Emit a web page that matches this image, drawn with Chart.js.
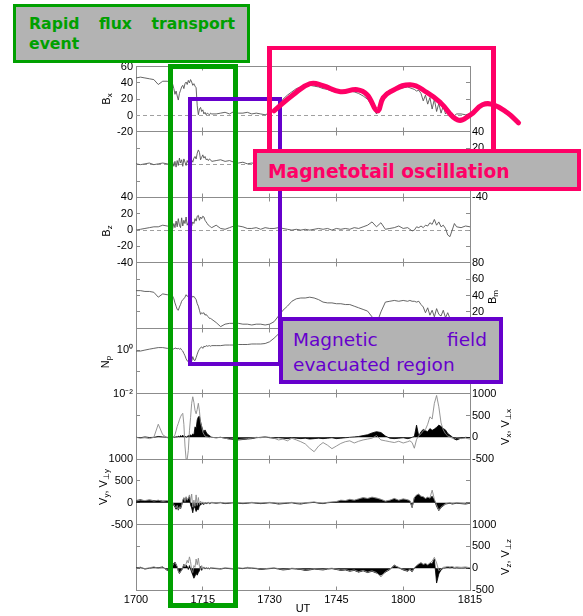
<!DOCTYPE html>
<html>
<head>
<meta charset="utf-8">
<script src="https://cdn.jsdelivr.net/npm/chart.js@4.4.0/dist/chart.umd.min.js"></script>
<style>
  html,body{margin:0;padding:0;background:#fff;}
  #stage{position:relative;width:583px;height:616px;overflow:hidden;background:#fff;}
  canvas{position:absolute;left:0;}
  .yt{position:absolute;transform:translate(-50%,-50%) rotate(-90deg);white-space:nowrap;
      font:11px "Liberation Sans",Arial,sans-serif;color:#000;z-index:2;line-height:1;}
  .yt sub{font-size:8px;vertical-align:-2px;}
  .rect{position:absolute;box-sizing:border-box;background:transparent;}
  .lbl{position:absolute;box-sizing:border-box;background:#b3b3b3;}
  .txt{position:absolute;font-family:"DejaVu Sans",Verdana,sans-serif;white-space:nowrap;}
  .just{text-align:justify;text-align-last:justify;}
</style>
</head>
<body>
<div id="stage">
  <!-- axis titles -->
  <div class="yt" style="left:107px;top:99px">B<sub>x</sub></div>
  <div class="yt" style="left:493px;top:164px">B<sub>y</sub></div>
  <div class="yt" style="left:107px;top:231px">B<sub>z</sub></div>
  <div class="yt" style="left:493px;top:297px">B<sub>m</sub></div>
  <div class="yt" style="left:106px;top:362px">N<sub>p</sub></div>
  <div class="yt" style="left:506px;top:427px">V<sub>x</sub>, V<sub>⊥x</sub></div>
  <div class="yt" style="left:104px;top:487px">V<sub>y</sub>, V<sub>⊥y</sub></div>
  <div class="yt" style="left:506px;top:557px">V<sub>z</sub>, V<sub>⊥z</sub></div>

  <!-- annotation outlines -->
  <div class="rect" style="left:168px;top:64px;width:70px;height:544px;border:5px solid #00a000;z-index:5"></div>
  <div class="rect" style="left:188px;top:97px;width:94px;height:269px;border:4px solid #6600cc;z-index:5"></div>
  <div class="rect" style="left:267px;top:46px;width:229px;height:110px;border:5px solid #ff0066;border-top-width:4px;z-index:5"></div>

  <!-- annotation labels -->
  <div class="lbl" style="left:13px;top:4px;width:237px;height:59px;border:3px solid #00a000;z-index:8"></div>
  <div class="txt" style="left:29px;top:13.5px;width:206px;font-size:15.7px;line-height:20.7px;font-weight:bold;color:#00a000;z-index:9">
    <div class="just">Rapid flux transport</div><div>event</div>
  </div>
  <div class="lbl" style="left:253px;top:149px;width:328px;height:42px;border:4px solid #ff0066;z-index:8"></div>
  <div class="txt" style="left:268px;top:161px;font-size:18.7px;line-height:22px;font-weight:bold;color:#ff0066;z-index:9">Magnetotail oscillation</div>
  <div class="lbl" style="left:279px;top:317px;width:224px;height:67px;border:4px solid #6600cc;z-index:8"></div>
  <div class="txt" style="left:293px;top:326.7px;width:194px;font-size:18.5px;line-height:25.7px;color:#6600cc;z-index:9">
    <div class="just">Magnetic field</div><div>evacuated region</div>
  </div>
</div>
<script>
// ---------------- DATA ----------------
// time in minutes after 17:00 UT
const T = [0,1,2,3,4,5,6,7,8,
 8.25,8.5,8.75,9, 9.25,9.5,9.75,10, 10.25,10.5,10.75,11, 11.25,11.5,11.75,12, 12.25,12.5,12.75,13,
 13.25,13.5,13.75,14, 14.25,14.5,14.75,15, 15.25,15.5,15.75,16, 16.25,16.5,16.75,17,
 18,19,20,21,22,23,24,25,26,27,28,29,30,31,32,33,34,35,36,37,38,39,40,41,42,43,44,45,46,47,48,49,50,51,52,53,54,55,56,57,58,59,60,61,
 61.5,62,62.5,63,63.5,64,64.5,65,65.5,66,66.5,67,67.5,68,68.5,69,69.5,70,70.5,71,71.5,72,
 73,74,75];

const BX = [46,47,46,45,44,38,42,42,40,
 38,33,26,30, 24,19,27,31, 35,37,33,39, 41,38,43,40, 44,41,37,39, 36,34,12,1, 8,10,5,7, 2,4,1,3, 2,1,3,2,
 2,3,4,2,5,3,3,4,2,3, 2,1,3,6,12,20,25,29,33,35, 36,37,36,35,33,32,30,29,29,30, 30,29,27,24,20,12,2,16,28,31, 32,33,34,35,
 34,33,32,30,31,27,18,25,14,22,8,20,5,15,3,12,2,6,1,3,0,2,
 2,1,2];

const BY = [1,0,1,2,0,1,2,1,0,
 3,-2,4,-3, 5,-1,8,2, 6,-2,7,3, -1,5,2,4, 1,6,3,8, 10,7,14,18, 15,6,9,12, 8,10,6,7, 5,7,6,4,
 5,6,4,5,3,2,3,1,2,1, 0,1,-1,2,3,5,3,4,6,3, 2,4,5,3,2,1,3,4,2,1, 3,2,4,3,1,-2,0,3,4,2, 3,5,4,6,
 3,7,2,8,4,10,5,12,3,9,6,14,2,8,-3,5,1,4,-2,3,1,2,
 2,1,3];

const BZ = [0,1,2,3,4,4,6,5,4,
 2,8,3,11, 4,14,6,3, 15,5,12,8, 16,6,9,7, 12,5,10,8, 14,11,17,18, 12,16,14,17, 16,12,10,8, 6,5,4,3,
 6,2,1,3,5,5,4,2,2,3, 1,3,2,2,3,2,1,0,1,0, 1,0,1,2,1,2,0,2,1,2, 1,3,2,4,6,10,4,9,1,2, 3,5,2,3,
 1,-1,0,4,3,5,3,6,5,9,7,13,6,10,4,6,2,-6,-8,0,8,4,
 3,5,4];

const BM = [46,46,45,45,44,38,42,41,41,
 39,36,31,27, 23,22,26,29, 33,35,36,38, 41,39,40,41, 39,40,38,39, 37,35,30,27, 22,17,19,18, 19,16,17,15, 14,12,12,11,
 7,2,5,6,6,6,5,5,4,5, 5,4,5,8,15,22,27,33,36,37, 37,38,37,35,32,31,31,30,30,29, 29,27,25,23,21,14,5,20,32,33, 34,33,34,33,
 34,33,33,32,33,29,26,19,25,16,22,14,24,17,15,22,13,19,12,10,9,8,
 7,6,6];

const NP = [0.9,0.9,1.0,1.1,1.2,1.3,1.3,1.2,1.2,
 1.2,1.1,1.25,1.2, 1.15,1.2,1.1,1.2, 1.0,0.9,0.7,0.55, 0.4,0.32,0.3,0.35, 0.33,0.3,0.5,0.35, 0.33,0.45,0.65,0.9, 1.1,1.3,1.4,1.2, 1.5,1.4,1.6,1.5, 1.55,1.6,1.5,1.6,
 1.6,1.6,1.7,1.7,1.7,1.8,1.8,1.8,1.9,1.9, 1.9,2.0,2.4,3.5,5.5,6.5,7,7,7,6.5, 6.5,6,6,6,5.5,5.5,5,5,5,5, 4.5,4.5,4,4,3,2,1.5,3,5,6, 6,6,6,6,
 5.5,5.5,5,5,5,4.5,4,3.5,3,3.5,3,2.5,3,2.5,2,2.5,2,2,1.8,1.8,1.7,1.7,
 1.6,1.6,1.6];

const VX = [0,-20,-10,-30,0,300,60,-10,-20,
 -10,0,60,150, 250,320,400,470, 520,550,300,-200, -500,-500,-300,150, 450,780,930,800, 620,540,640,780, 600,330,250,120, 70,30,15,10, 0,-10,5,0,
 -10,0,-20,-40,-30,-50,-40,-30,-20,0, -10,10,0,-20,-60,-40,-80,-20,-60,-100, -150,-250,-330,-200,-120,-180,-260,-200,-140,-100, -80,-130,-90,-60,-40,-20,40,-60,-80,-100, -120,-90,-130,-100,
 -80,-120,-250,-50,40,80,150,180,300,470,420,780,960,700,330,170,80,30,10,-20,-40,-10,
 -30,-20,-40];

const VPX = [0,-10,10,-5,0,20,10,0,-10,
 0,10,-5,20, 0,30,10,40, 20,50,10,30, 0,20,40,30, 60,30,80,50, 240,200,400,470, 480,360,250,170, 130,170,120,75, 60,40,20,0,
 -10,0,-20,-40,-50,-60,-50,-40,-30,-10, 0,10,-10,-20,-10,-20,-30,-10,-20,-30, -20,-40,-30,-20,-30,-20,-10,-30,-20,-10, 0,10,20,40,60,100,130,110,30,-20, -30,-20,-10,-30,
 -20,0,20,280,30,130,180,150,130,200,160,190,230,280,250,200,170,90,50,10,-40,-60,
 -20,0,-10];

const VY = [40,60,50,70,40,60,30,50,20,
 0,-40,-80,-120, -60,-150,-90,-130, -40,60,120,30, 140,60,110,180, 40,200,-100,60, -80,180,-60,120, -40,40,-20,20, -30,10,-10,0, 10,-10,0,10,
 0,10,-10,0,10,0,-10,0,10,0, -10,0,10,0,-20,-10,0,10,-10,-20, 0,10,20,0,-10,10,20,30,60,50, 80,60,90,120,100,130,110,80,40,60, 100,60,90,70,
 50,-100,120,180,200,150,140,100,130,110,290,80,-50,-170,-100,-60,-20,-10,0,-20,-10,0,
 -10,-20,0];

const VPY = [50,70,40,60,50,50,40,40,10,
 -10,-60,-100,-150, -80,-170,-100,-140, -60,40,110,20, 120,50,100,140, -50,-120,-230,-80, -120,-200,-150,-160, -60,-50,-30,-20, -40,0,-20,-10, 0,-20,-10,0,
 -10,0,-20,-10,0,-10,-20,-10,0,-10, -20,-10,0,-10,-30,-20,-10,0,-20,-30, -10,0,10,-10,-20,0,10,20,50,40, 70,50,80,110,90,120,100,70,30,50, 90,50,80,60,
 40,-110,110,170,190,140,130,90,120,100,150,60,-80,-180,-110,-70,-30,-20,-10,-30,-20,-10,
 -20,-30,-10];

const VZ = [0,20,-10,10,30,0,20,-40,-10,
 60,110,130,80, 40,-60,-110,-70, -40,20,90,30, 100,180,120,260, 150,-40,-100,60, 20,210,80,230, 40,-30,60,-20, 30,-10,20,0, 10,-10,0,10,
 0,-10,10,0,-10,10,0,20,10,0, -20,-10,0,10,-10,-30,-20,0,-10,-20, -40,-30,-10,-20,-30,-10,0,-20,-40,-30, -60,-40,-80,-50,-90,-60,-100,-200,-80,-20, 60,20,-30,-60,
 -20,-70,10,60,100,130,90,110,80,120,160,250,120,-60,-20,20,30,40,30,40,20,30,
 20,30,10];

const VPZ = [10,20,-20,0,20,10,30,-50,-20,
 80,120,140,90, 30,-70,-120,-80, -50,10,90,20, 70,40,-30,60, -20,-90,-160,-230, -180,-120,-160,-100, -60,40,-50,10, 20,-20,10,-10, 0,-20,10,0,
 -10,-20,0,-10,-20,0,-10,10,0,-10, -30,-20,-10,0,-20,-40,-30,-10,-20,-30, -50,-40,-20,-30,-40,-20,-10,-30,-50,-40, -70,-50,-90,-60,-100,-70,-110,-160,-90,-30, 70,10,-40,-70,
 -30,-80,0,50,90,120,80,100,70,110,100,210,-340,-130,-40,0,10,20,10,20,0,10,
 0,10,-10];

// hand-drawn "oscillation" sketch over the Bx panel (minutes, nT)
const SKETCH_T = [31.0,35.3,39.1,42.0,45.9,49.7,51.9,54.2,55.5,57.1,61.6,65.4,68.4,72.2,75.1,77.8,80.3,83.4,85.9];
const SKETCH_B = [5.8,25.5,39.1,36.6,29.2,31.7,25.5,5.8,21.8,29.2,37.8,28.0,15.7,-5.2,0.9,13.2,13.2,3.4,-8.9];

// tick values & labels
const X_TICKS  = [0,15,30,45,60,75];
const X_LABELS = ['1700','1715','1730','1745','1800','1815'];
const BX_TICKS = [-20,0,20,40,60];
const BY_TICKS = [-40,-20,0,20,40];
const BZ_TICKS = [-40,-20,0,20,40];
const BM_TICKS = [0,20,40,60,80];
const NP_TICKS = [0.01,0.1,1,10];
const NP_LABELS = ['10\u207B\u00B2','','10\u2070',''];
const V_TICKS  = [-500,0,500,1000];

// ---------------- LAYOUT ----------------
const W = 583, PLOT_L = 136, PLOT_R = 470;
const TOP0 = 66.5, PH = 65.44, MARG = 12;
const FONT = '"Liberation Sans", Arial, sans-serif';
const AXIS_GRAY = '#8c8c8c';
const B_GRAY = '#555', V_GRAY = '#8a8a8a';

[BX,BY,BZ,BM,NP,VX,VPX,VY,VPY,VZ,VPZ].forEach((a,i)=>{ if(a.length!==T.length) throw new Error('series '+i+' length '+a.length+' != '+T.length); });

const lbl = v => String(v);
const PANELS = [
  {side:'left',  min:-20,  max:60,   ticks:BX_TICKS, labels:BX_TICKS.map(lbl), zero:true, series:[{v:BX}]},
  {side:'right', min:-40,  max:40,   ticks:BY_TICKS, labels:BY_TICKS.map(lbl), zero:true, series:[{v:BY}]},
  {side:'left',  min:-40,  max:40,   ticks:BZ_TICKS, labels:BZ_TICKS.map(lbl), zero:true, series:[{v:BZ}]},
  {side:'right', min:0,    max:80,   ticks:BM_TICKS, labels:BM_TICKS.map(lbl), series:[{v:BM}]},
  {side:'left',  min:0.01, max:10,   ticks:NP_TICKS, labels:NP_LABELS, log:true, series:[{v:NP}]},
  {side:'right', min:-500, max:1000, ticks:V_TICKS,  labels:V_TICKS.map(lbl), series:[{v:VX, v2:true},{v:VPX, fill:true}]},
  {side:'left',  min:-500, max:1000, ticks:V_TICKS,  labels:V_TICKS.map(lbl), series:[{v:VY, v2:true},{v:VPY, fill:true}]},
  {side:'right', min:-500, max:1000, ticks:V_TICKS,  labels:V_TICKS.map(lbl), series:[{v:VZ, v2:true},{v:VPZ, fill:true}]},
];

const stage = document.getElementById('stage');
function addCanvas(top, h, z) {
  const c = document.createElement('canvas');
  c.width = W; c.height = h;
  c.style.top = top + 'px'; c.style.width = W + 'px'; c.style.height = h + 'px'; c.style.zIndex = z;
  stage.appendChild(c);
  return c;
}

const framePlugin = {
  id: 'frame',
  beforeDatasetsDraw(chart, args, opts) {
    const {ctx, chartArea: a, scales} = chart;
    const ys = scales.yl, xs = scales.x;
    const snap = v => Math.floor(v) + 0.5;
    ctx.save();
    ctx.strokeStyle = AXIS_GRAY; ctx.lineWidth = 1;
    ctx.beginPath();
    const t = snap(a.top), b = snap(a.bottom - 0.01);
    ctx.moveTo(a.left, t); ctx.lineTo(a.right, t);
    ctx.moveTo(a.left, b); ctx.lineTo(a.right, b);
    X_TICKS.forEach(v => {
      if (v <= 0 || v >= 75) return;
      const px = snap(xs.getPixelForValue(v));
      ctx.moveTo(px, t); ctx.lineTo(px, t + 4);
      ctx.moveTo(px, b); ctx.lineTo(px, b - 4);
    });
    ys.ticks.forEach(tk => {
      const py = ys.getPixelForValue(tk.value);
      if (py < a.top + 2 || py > a.bottom - 2) return;
      const sy = snap(py);
      ctx.moveTo(a.left, sy); ctx.lineTo(a.left + 4, sy);
      ctx.moveTo(a.right - 4, sy); ctx.lineTo(a.right, sy);
    });
    ctx.stroke();
    if (opts.zero) {
      const zy = snap(ys.getPixelForValue(0));
      ctx.strokeStyle = '#a0a0a0'; ctx.setLineDash([4,3]);
      ctx.beginPath(); ctx.moveTo(a.left, zy); ctx.lineTo(a.right, zy); ctx.stroke();
    }
    ctx.restore();
  }
};

PANELS.forEach((p, i) => {
  const pTop = TOP0 + i * PH;
  const last = i === PANELS.length - 1;
  const cTop = Math.floor(pTop) - MARG;
  const padTop = pTop - cTop;
  const cH = last ? Math.round(padTop + PH + 26) : Math.ceil(padTop + PH + MARG);
  const padBottom = last ? 0 : cH - padTop - PH;
  const xH = last ? cH - padTop - PH : 0;
  const canvas = addCanvas(cTop, cH, 1);

  const yAxis = (side) => ({
    type: p.log ? 'logarithmic' : 'linear',
    position: side,
    min: p.min, max: p.max,
    afterFit: s => { s.width = side === 'left' ? PLOT_L : W - PLOT_R; },
    afterBuildTicks: s => { s.ticks = p.ticks.map(v => ({value: v})); },
    ticks: {
      display: side === p.side, autoSkip: false,
      padding: side === 'left' ? 3 : 2,
      font: {family: FONT, size: 11}, color: '#000',
      callback: (v, idx) => p.labels[idx]
    },
    grid: {display: true, drawOnChartArea: false, drawTicks: false},
    border: {display: true, color: AXIS_GRAY, width: 1}
  });

  const datasets = p.series.map(s => ({
    data: T.map((t, k) => ({x: t, y: s.v[k]})),
    yAxisID: 'yl',
    borderColor: s.fill ? '#000' : (s.v2 ? V_GRAY : B_GRAY),
    backgroundColor: '#000',
    fill: s.fill ? 'origin' : false,
    borderWidth: s.fill ? 0.8 : 0.9,
    pointRadius: 0, tension: 0
  }));

  const xScale = {
    type: 'linear', min: 0, max: 75, display: last,
    afterBuildTicks: s => { s.ticks = X_TICKS.map(v => ({value: v})); },
    ticks: {callback: (v, idx) => X_LABELS[idx], maxRotation: 0, autoSkip: false, padding: 3,
            font: {family: FONT, size: 11}, color: '#000'},
    grid: {display: false, drawTicks: false},
    border: {display: false},
    title: {display: true, text: 'UT', font: {family: FONT, size: 11}, color: '#000', padding: {top: 0, bottom: 0}}
  };
  if (last) xScale.afterFit = s => { s.height = xH; };

  new Chart(canvas, {
    type: 'line',
    data: {datasets},
    plugins: [framePlugin],
    options: {
      responsive: false, animation: false, devicePixelRatio: 1, events: [],
      layout: {padding: {top: padTop, bottom: padBottom, left: 0, right: 0}},
      plugins: {legend: {display: false}, tooltip: {enabled: false}, frame: {zero: !!p.zero}},
      scales: { x: xScale, yl: yAxis('left'), yr: yAxis('right') }
    }
  });
});

// sketch overlay over the Bx panel: same pixel mapping (x 0..90 over a wider area)
(function () {
  const pTop = TOP0;
  const cTop = Math.floor(pTop) - MARG;
  const padTop = pTop - cTop;
  const cH = Math.ceil(padTop + PH + MARG);
  const xMax = 90;
  const rightEdge = PLOT_L + xMax * (PLOT_R - PLOT_L) / 75;
  const canvas = addCanvas(cTop, cH, 6);
  new Chart(canvas, {
    type: 'line',
    data: {datasets: [{
      data: SKETCH_T.map((t, k) => ({x: t, y: SKETCH_B[k]})),
      borderColor: '#ff0066', borderWidth: 5, pointRadius: 0, tension: 0.45,
      borderCapStyle: 'round', borderJoinStyle: 'round', fill: false, clip: false
    }]},
    options: {
      responsive: false, animation: false, devicePixelRatio: 1, events: [],
      layout: {padding: {top: padTop, bottom: cH - padTop - PH, left: PLOT_L, right: W - rightEdge}},
      plugins: {legend: {display: false}, tooltip: {enabled: false}},
      scales: {
        x: {type: 'linear', min: 0, max: xMax, display: false},
        y: {type: 'linear', min: -20, max: 60, display: false}
      }
    }
  });
})();
</script>
</body>
</html>
